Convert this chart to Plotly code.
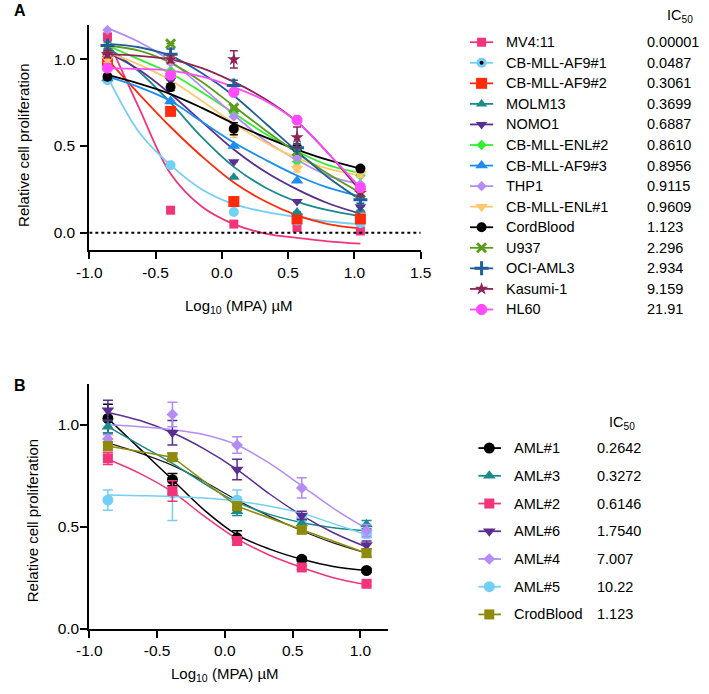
import plotly.graph_objects as go

W, H = 709, 694
FONT = "Liberation Sans, Arial, sans-serif"

# ---------------- data ----------------
x_log = [-0.863, -0.387, 0.090, 0.567, 1.045]
x_fit = [-0.863, -0.625, -0.387, -0.150, 0.090, 0.330, 0.567, 0.800, 1.045]

# Panel A: cell lines
a_names = ["MV4:11", "CB-MLL-AF9#1", "CB-MLL-AF9#2", "MOLM13", "NOMO1", "CB-MLL-ENL#2",
           "CB-MLL-AF9#3", "THP1", "CB-MLL-ENL#1", "CordBlood", "U937", "OCI-AML3",
           "Kasumi-1", "HL60"]
a_ic50 = ["0.00001", "0.0487", "0.3061", "0.3699", "0.6887", "0.8610", "0.8956",
          "0.9115", "0.9609", "1.123", "2.296", "2.934", "9.159", "21.91"]

mv411 = [1.13, 0.13, 0.05, 0.03, 0.01]
mv411_fit = [1.12, 0.72, 0.34, 0.15, 0.05, -0.005, -0.03, -0.05, -0.063]
af9_1 = [0.88, 0.39, 0.12, 0.07, 0.055]
af9_1_fit = [0.90, 0.58, 0.39, 0.25, 0.165, 0.12, 0.09, 0.065, 0.05]
af9_2 = [0.99, 0.70, 0.18, 0.08, 0.08]
af9_2_fit = [1.0, 0.80, 0.61, 0.44, 0.29, 0.18, 0.10, 0.05, 0.025]
molm13 = [1.05, 0.755, 0.32, 0.12, 0.13]
molm13_fit = [1.07, 0.93, 0.75, 0.55, 0.38, 0.26, 0.18, 0.13, 0.095]
nomo1 = [1.02, 0.88, 0.41, 0.18, 0.15]
nomo1_fit = [1.04, 0.94, 0.80, 0.64, 0.48, 0.35, 0.25, 0.17, 0.11]
enl_2 = [1.08, 0.935, 0.69, 0.41, 0.33]
enl_2_fit = [1.08, 1.0, 0.92, 0.81, 0.69, 0.57, 0.47, 0.39, 0.345]
af9_3 = [0.89, 0.76, 0.50, 0.30, 0.20]
af9_3_fit = [0.90, 0.84, 0.76, 0.64, 0.52, 0.42, 0.33, 0.26, 0.21]
thp1 = [1.17, 0.98, 0.67, 0.43, 0.28]
thp1_fit = [1.18, 1.10, 0.99, 0.84, 0.68, 0.53, 0.42, 0.33, 0.28]
enl_1 = [1.0, 1.0, 0.58, 0.37, 0.34]
enl_1_fit = [1.04, 0.97, 0.88, 0.76, 0.63, 0.52, 0.43, 0.37, 0.33]
cord = [0.90, 0.84, 0.60, 0.49, 0.37]
cord_fit = [0.91, 0.86, 0.80, 0.72, 0.63, 0.55, 0.48, 0.42, 0.37]
u937 = [1.06, 1.09, 0.72, 0.47, 0.23]
u937_fit = [1.08, 1.05, 0.98, 0.87, 0.73, 0.59, 0.46, 0.34, 0.23]
ociaml3 = [1.08, 1.03, 0.85, 0.49, 0.19]
ociaml3_fit = [1.09, 1.07, 1.02, 0.92, 0.79, 0.63, 0.47, 0.32, 0.19]
kasumi = [1.03, 1.0, 1.0, 0.55, 0.23]
kasumi_fit = [1.03, 1.02, 1.0, 0.95, 0.87, 0.77, 0.64, 0.46, 0.24]
hl60 = [0.95, 0.91, 0.81, 0.65, 0.26]
hl60_fit = [0.95, 0.945, 0.935, 0.90, 0.84, 0.76, 0.64, 0.46, 0.26]

kasumi_err = [0.02, 0.02, 0.05, 0.06, 0.02]
cord_err = [0.01, 0.02, 0.035, 0.02, 0.01]
ociaml3_err = [0.02, 0.03, 0.03, 0.02, 0.02]
enl_1_err = [0.02, 0.02, 0.03, 0.02, 0.02]

# Panel B: primary AML samples
b_names = ["AML#1", "AML#3", "AML#2", "AML#6", "AML#4", "AML#5", "CrodBlood"]
b_ic50 = ["0.2642", "0.3272", "0.6146", "1.7540", "7.007", "10.22", "1.123"]

aml1 = [1.03, 0.73, 0.445, 0.34, 0.285]
aml1_err = [0.07, 0.03, 0.035, 0.01, 0.01]
aml1_fit = [1.03, 0.88, 0.73, 0.58, 0.46, 0.39, 0.34, 0.305, 0.285]
aml3 = [0.99, 0.84, 0.575, 0.515, 0.51]
aml3_err = [0.03, 0.02, 0.02, 0.02, 0.02]
aml3_fit = [0.99, 0.90, 0.81, 0.71, 0.62, 0.56, 0.52, 0.495, 0.48]
aml2 = [0.835, 0.675, 0.43, 0.30, 0.22]
aml2_err = [0.03, 0.05, 0.02, 0.01, 0.01]
aml2_fit = [0.83, 0.76, 0.67, 0.55, 0.44, 0.36, 0.30, 0.25, 0.215]
aml6 = [1.07, 0.96, 0.78, 0.555, 0.41]
aml6_err = [0.05, 0.06, 0.05, 0.02, 0.02]
aml6_fit = [1.06, 1.02, 0.96, 0.88, 0.78, 0.66, 0.555, 0.47, 0.40]
aml4 = [0.93, 1.05, 0.90, 0.69, 0.48]
aml4_err = [0.02, 0.06, 0.04, 0.05, 0.03]
aml4_fit = [1.0, 0.99, 0.975, 0.95, 0.90, 0.81, 0.70, 0.59, 0.49]
aml5 = [0.63, 0.665, 0.63, 0.54, 0.465]
aml5_err_up = [0.05, 0.03, 0.05, 0.02, 0.02]
aml5_err_dn = [0.05, 0.135, 0.05, 0.02, 0.02]
aml5_fit = [0.655, 0.652, 0.648, 0.64, 0.625, 0.60, 0.565, 0.515, 0.46]
crod = [0.895, 0.84, 0.60, 0.485, 0.37]
crod_err = [0.02, 0.02, 0.02, 0.02, 0.02]

# ---------------- styles ----------------
PINK = "#F2357A"; LBLUE = "#74CFF6"; RED = "#FF2B0A"; TEAL = "#1A8A8A"
PURPLE = "#5A2D91"; GREEN = "#33EE33"; BLUE = "#1C8EF0"; LAV = "#B58CF5"
ORANGE = "#FFC870"; BLACK = "#000000"; OLIVEG = "#5C9B1C"; DBLUE = "#205E9A"
MAROON = "#8E2456"; MAGENTA = "#FF4BFF"; OLIVE = "#8E8A0C"

zeros = [0, 0, 0, 0, 0]
A = [
    (mv411, mv411_fit, zeros, PINK, "square", 9, None),
    (af9_1, af9_1_fit, zeros, LBLUE, "circle", 10, None),
    (af9_2, af9_2_fit, zeros, RED, "square", 11, None),
    (molm13, molm13_fit, zeros, TEAL, "triangle-up", 10, None),
    (nomo1, nomo1_fit, zeros, PURPLE, "triangle-down", 10, None),
    (enl_2, enl_2_fit, zeros, GREEN, "diamond", 8, None),
    (af9_3, af9_3_fit, zeros, BLUE, "triangle-up", 11, None),
    (thp1, thp1_fit, zeros, LAV, "diamond", 8, None),
    (enl_1, enl_1_fit, enl_1_err, ORANGE, "triangle-down", 11, None),
    (cord, cord_fit, cord_err, BLACK, "circle", 10, None),
    (u937, u937_fit, zeros, OLIVEG, "x-thin", 9, 3),
    (ociaml3, ociaml3_fit, ociaml3_err, DBLUE, "cross-thin", 10, 3),
    (kasumi, kasumi_fit, kasumi_err, MAROON, "star", 10, None),
    (hl60, hl60_fit, zeros, MAGENTA, "asterisk-open", 9, 4),
]
B = [
    (aml1, aml1_fit, aml1_err, BLACK, "circle", 11, None, "spline", aml1_err),
    (aml3, aml3_fit, aml3_err, TEAL, "triangle-up", 11, None, "spline", aml3_err),
    (aml2, aml2_fit, aml2_err, PINK, "square", 10, None, "spline", aml2_err),
    (aml6, aml6_fit, aml6_err, PURPLE, "triangle-down", 11, None, "spline", aml6_err),
    (aml4, aml4_fit, aml4_err, LAV, "diamond", 9, None, "spline", aml4_err),
    (aml5, aml5_fit, aml5_err_up, LBLUE, "circle", 11, None, "spline", aml5_err_dn),
    (crod, crod, crod_err, OLIVE, "square", 10, None, "linear", crod_err),
]
B_MARKER_ORDER = [5, 0, 1, 2, 3, 4, 6]


def marker(color, sym, size, lw):
    if lw:
        return dict(symbol=sym, size=size, color=color, line=dict(color=color, width=lw))
    return dict(symbol=sym, size=size, color=color, line=dict(width=0))


fig = go.Figure()

# Panel A curves
for vals, fit, err, col, sym, sz, lw in A:
    fig.add_trace(go.Scatter(x=x_fit, y=fit, mode="lines", line=dict(color=col, width=1.8, shape="spline"),
                             xaxis="x", yaxis="y", showlegend=False, hoverinfo="skip"))
for vals, fit, err, col, sym, sz, lw in A:
    fig.add_trace(go.Scatter(x=x_log, y=vals, mode="markers", marker=marker(col, sym, sz, lw),
                             error_y=dict(type="data", array=err, visible=True, color=col, thickness=1.5, width=4),
                             cliponaxis=False, xaxis="x", yaxis="y", showlegend=False))

# Panel B curves
fig.add_trace(go.Scatter(x=x_fit, y=cord_fit, mode="lines", line=dict(color="#222222", width=1.3, shape="spline"),
                         xaxis="x2", yaxis="y2", showlegend=False, hoverinfo="skip"))
for vals, fit, err, col, sym, sz, lw, shp, errm in B:
    xs = x_fit if shp == "spline" else x_log
    fig.add_trace(go.Scatter(x=xs, y=fit, mode="lines", line=dict(color=col, width=1.5, shape=shp),
                             xaxis="x2", yaxis="y2", showlegend=False, hoverinfo="skip"))
for k in B_MARKER_ORDER:
    vals, fit, err, col, sym, sz, lw, shp, errm = B[k]
    fig.add_trace(go.Scatter(x=x_log, y=vals, mode="markers", marker=marker(col, sym, sz, lw),
                             error_y=dict(type="data", array=err, arrayminus=errm, visible=True, color=col,
                                          thickness=1.5, width=5),
                             cliponaxis=False, xaxis="x2", yaxis="y2", showlegend=False))

# ---------------- custom legends (pixel overlay axes) ----------------
annotations = []
LEG_A = dict(y0=42.7, dy=20.8, xl0=473, xl1=497, xm=485, xt=508, xv=654)
LEG_B = dict(y0=453.3, dy=28.05, xl0=481.7, xl1=505, xm=493, xt=516, xv=602.7)


def draw_legend(entries, names, values, L):
    for i, e in enumerate(entries):
        col, sym, sz, lw = e[3], e[4], e[5], e[6]
        yy = L["y0"] + i * L["dy"]
        fig.add_trace(go.Scatter(x=[L["xl0"], L["xl1"]], y=[yy, yy], mode="lines",
                                 line=dict(color=col, width=1.8), xaxis="x3", yaxis="y3",
                                 showlegend=False, hoverinfo="skip"))
        fig.add_trace(go.Scatter(x=[L["xm"]], y=[yy], mode="markers", marker=marker(col, sym, sz, lw),
                                 xaxis="x3", yaxis="y3", showlegend=False, hoverinfo="skip", cliponaxis=False))
        annotations.append(dict(x=L["xt"], y=yy, xref="x3", yref="y3", text=names[i], showarrow=False,
                                xanchor="left", yanchor="middle", font=dict(size=14.5, color="black", family=FONT)))
        annotations.append(dict(x=L["xv"], y=yy, xref="x3", yref="y3", text=values[i], showarrow=False,
                                xanchor="left", yanchor="middle", font=dict(size=14.5, color="black", family=FONT)))


draw_legend(A, a_names, a_ic50, LEG_A)
fig.add_trace(go.Scatter(x=[LEG_A["xm"]], y=[LEG_A["y0"] + LEG_A["dy"]], mode="markers",
                         marker=dict(symbol="circle", size=4, color="black"), xaxis="x3", yaxis="y3",
                         showlegend=False, hoverinfo="skip"))
draw_legend(B, b_names, b_ic50, LEG_B)

TF = dict(size=15, family=FONT, color="black")
annotations += [
    dict(x=675, y=16, xref="x3", yref="y3", text="IC<sub>50</sub>", showarrow=False, xanchor="left",
         yanchor="middle", font=dict(size=14.5, family=FONT, color="black")),
    dict(x=615, y=428, xref="x3", yref="y3", text="IC<sub>50</sub>", showarrow=False, xanchor="left",
         yanchor="middle", font=dict(size=14.5, family=FONT, color="black")),
    dict(x=7.5, y=11, xref="x3", yref="y3", text="<b>A</b>", showarrow=False, xanchor="center",
         yanchor="middle", font=dict(size=16, family=FONT, color="black")),
    dict(x=7, y=390, xref="x3", yref="y3", text="<b>B</b>", showarrow=False, xanchor="center",
         yanchor="middle", font=dict(size=16, family=FONT, color="black")),
    dict(x=11, y=147, xref="x3", yref="y3", text="Relative cell proliferation", textangle=-90, showarrow=False,
         xanchor="center", yanchor="middle", font=TF),
    dict(x=21, y=527, xref="x3", yref="y3", text="Relative cell proliferation", textangle=-90, showarrow=False,
         xanchor="center", yanchor="middle", font=TF),
    dict(x=234, y=310, xref="x3", yref="y3", text="Log<sub>10</sub> (MPA) µM", showarrow=False,
         xanchor="center", yanchor="middle", font=TF),
    dict(x=219, y=682, xref="x3", yref="y3", text="Log<sub>10</sub> (MPA) µM", showarrow=False,
         xanchor="center", yanchor="middle", font=TF),
]

axis_common = dict(showline=True, linecolor="black", linewidth=2, ticks="outside", ticklen=7, tickwidth=2,
                   tickcolor="black", showgrid=False, zeroline=False, mirror=False,
                   tickfont=dict(size=15.5, family=FONT, color="black"))

xa_ticks = [-1.0, -0.5, 0.0, 0.5, 1.0, 1.5]
xb_ticks = [-1.0, -0.5, 0.0, 0.5, 1.0]
y_ticks = [0.0, 0.5, 1.0]


def lab(v):
    return f"{v:.1f}"


fig.update_layout(
    width=W, height=H, autosize=False, margin=dict(l=0, r=0, t=0, b=0),
    paper_bgcolor="white", plot_bgcolor="rgba(0,0,0,0)",
    xaxis=dict(domain=[79 / W, 422 / W], range=[-1.0, 1.5], anchor="y", tickvals=xa_ticks,
               ticktext=[lab(v) for v in xa_ticks], **axis_common),
    yaxis=dict(domain=[1 - 253 / H, 1 - 25 / H], range=[-0.1, 1.2], anchor="x", tickvals=y_ticks,
               ticktext=[lab(v) for v in y_ticks], ticklabelstandoff=2, **axis_common),
    xaxis2=dict(domain=[79 / W, 387.7 / W], range=[-1.0, 1.2], anchor="y2", tickvals=xb_ticks,
                ticktext=[lab(v) for v in xb_ticks], **axis_common),
    yaxis2=dict(domain=[1 - 636 / H, 1 - 388.3 / H], range=[0, 1.2], anchor="x2", tickvals=y_ticks,
                ticktext=[lab(v) for v in y_ticks], ticklabelstandoff=-2, **axis_common),
    xaxis3=dict(domain=[0, 1], range=[0, W], anchor="y3", visible=False, fixedrange=True),
    yaxis3=dict(domain=[0, 1], range=[H, 0], anchor="x3", visible=False, fixedrange=True),
    annotations=annotations,
    shapes=[dict(type="line", xref="x", yref="y", x0=-1.0, x1=1.5, y0=0, y1=0,
                 line=dict(color="black", width=2, dash="dot"))],
    showlegend=False,
)

POST = ("var s=document.documentElement.style;s.margin='0';s.padding='0';s.overflow='hidden';s.height='694px';"
        "var b=document.body.style;b.margin='0';b.padding='0';b.overflow='hidden';b.height='694px';")
fig.write_html("out.html", config={"displayModeBar": False}, post_script=POST)
